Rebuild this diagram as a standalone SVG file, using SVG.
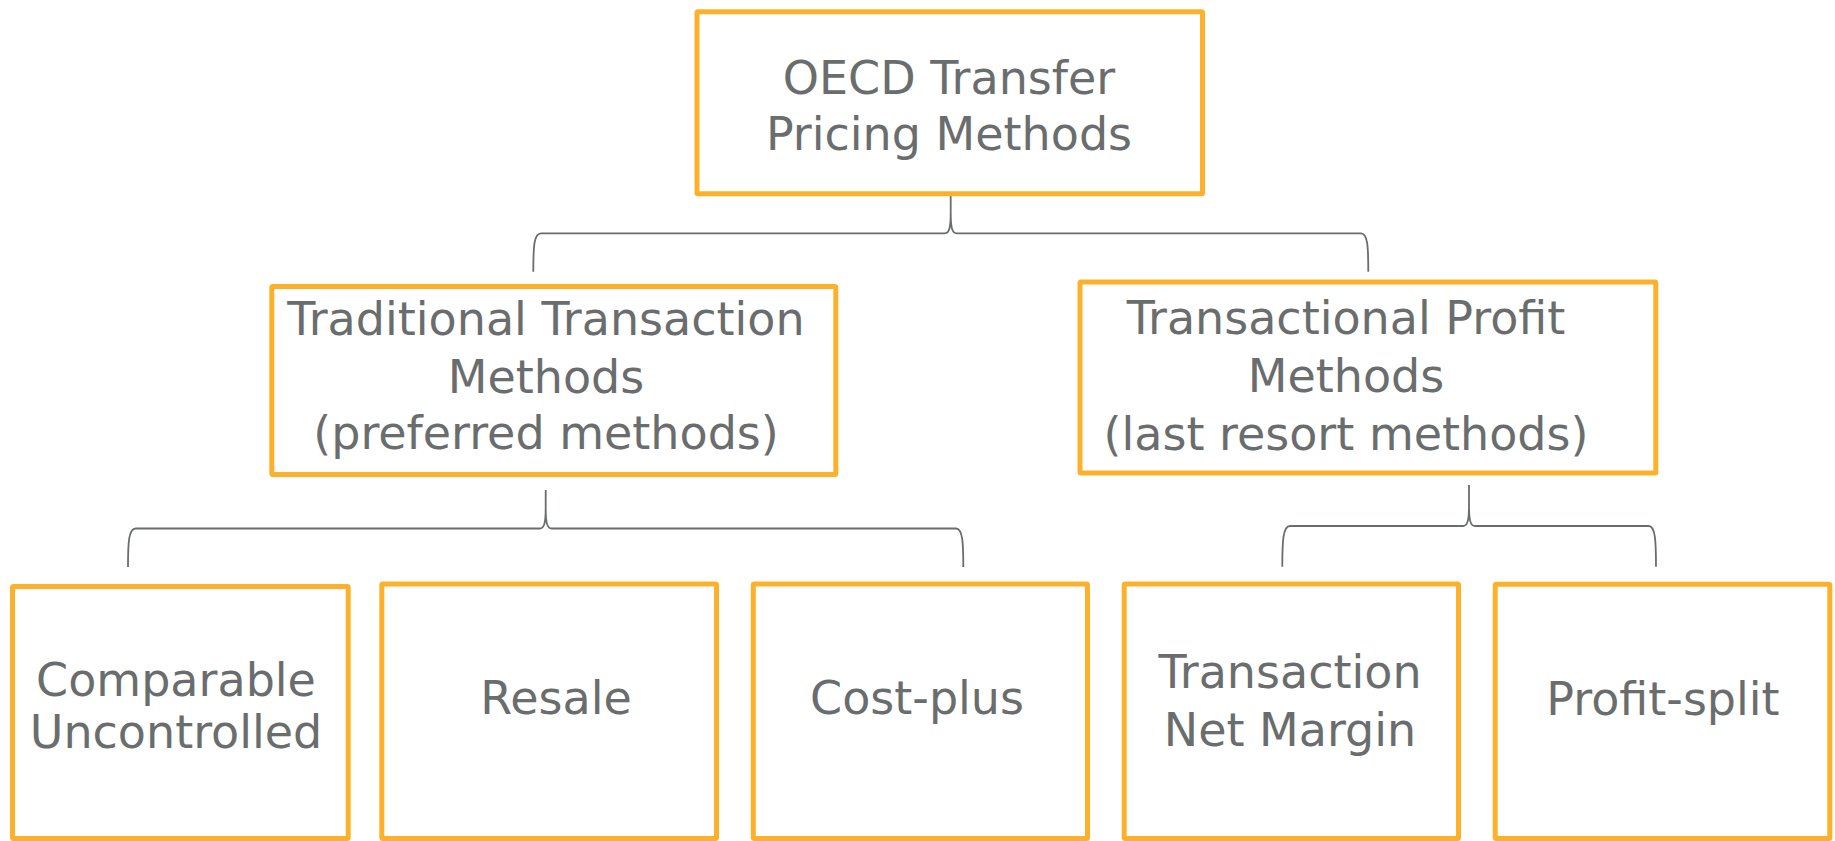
<svg xmlns="http://www.w3.org/2000/svg" width="1835" height="841" viewBox="0 0 1835 841">
<style>
.box{fill:#ffffff;stroke:#FDB12B;stroke-width:5}
.lbl{font-family:"DejaVu Sans","Liberation Sans",sans-serif;font-size:46px;fill:#6a6d6d;text-anchor:middle}
.con{fill:none;stroke:#6a6d6d;stroke-width:1.8}
</style>
<rect width="1835" height="841" fill="#ffffff"/>
<g id="connectors">
<path class="con" d="M533.3 271.7 C533.3 246 534 233.3 541 233.3 H944.7 C949.2 233.3 950.7 228 950.7 213 V196 M950.7 213 C950.7 228 952.2 233.3 956.7 233.3 H1361 C1367.6 233.3 1368.3 246 1368.3 271.7"/>
<path class="con" d="M128 567 C128 542 128.7 528.5 135.7 528.5 H539.7 C544.2 528.5 545.7 523 545.7 508 V490 M545.7 508 C545.7 523 547.2 528.5 551.7 528.5 H956 C962.6 528.5 963.3 542 963.3 567"/>
<path class="con" d="M1282.3 566.7 C1282.3 541 1283 526 1290 526 H1463 C1467.5 526 1469 520.5 1469 505.5 V485 M1469 505.5 C1469 520.5 1470.5 526 1475 526 H1648.7 C1655.3 526 1656 541 1656 566.7"/>
</g>
<g id="node-root">
<rect class="box" x="697" y="11.7" width="505.5" height="182" rx="1"/>
<text class="lbl" x="949" y="94">OECD Transfer</text>
<text class="lbl" x="949" y="150">Pricing Methods</text>
</g>
<g id="node-traditional">
<rect class="box" x="271.8" y="286.5" width="564" height="188" rx="1"/>
<text class="lbl" x="546" y="335">Traditional Transaction</text>
<text class="lbl" x="546" y="393">Methods</text>
<text class="lbl" x="546" y="449">(preferred methods)</text>
</g>
<g id="node-transactional">
<rect class="box" x="1080" y="282" width="575.8" height="191" rx="1"/>
<text class="lbl" x="1346" y="334">Transactional Profit</text>
<text class="lbl" x="1346" y="392">Methods</text>
<text class="lbl" x="1346" y="450">(last resort methods)</text>
</g>
<g id="node-cup">
<rect class="box" x="12.5" y="586.5" width="335.7" height="252" rx="1"/>
<text class="lbl" x="176" y="696">Comparable</text>
<text class="lbl" x="176" y="748">Uncontrolled</text>
</g>
<g id="node-resale">
<rect class="box" x="381.8" y="584" width="334.7" height="254.5" rx="1"/>
<text class="lbl" x="556" y="714">Resale</text>
</g>
<g id="node-costplus">
<rect class="box" x="753.3" y="584" width="334.2" height="254.5" rx="1"/>
<text class="lbl" x="917" y="714">Cost-plus</text>
</g>
<g id="node-tnmm">
<rect class="box" x="1124.2" y="584" width="334.3" height="254.5" rx="1"/>
<text class="lbl" x="1290" y="688">Transaction</text>
<text class="lbl" x="1290" y="746">Net Margin</text>
</g>
<g id="node-profitsplit">
<rect class="box" x="1495.2" y="584.2" width="334.6" height="254.3" rx="1"/>
<text class="lbl" x="1663" y="715">Profit-split</text>
</g>
</svg>
